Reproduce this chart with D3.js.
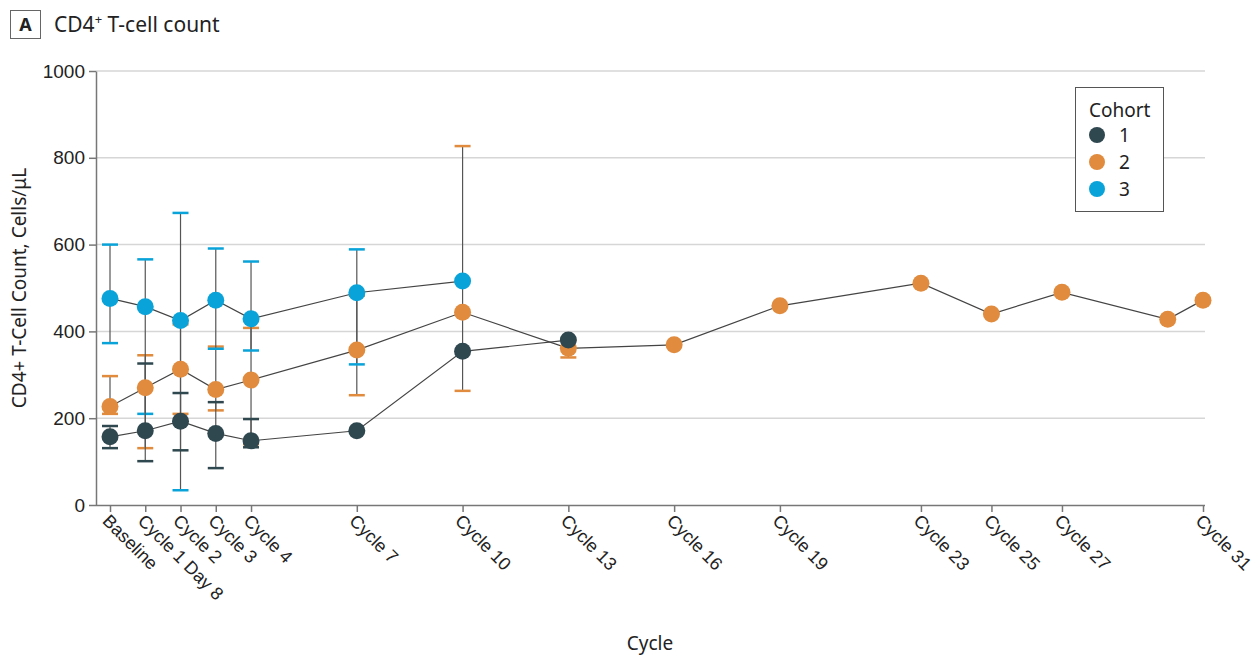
<!DOCTYPE html>
<html>
<head>
<meta charset="utf-8">
<script src="https://cdn.jsdelivr.net/npm/d3@7"></script>
<style>
  body { margin: 0; background: #fff; }
  svg { font-family: "Source Sans Pro", "Noto Sans", sans-serif; }
</style>
</head>
<body>
<div id="chart"></div>
<script>
// tick positions on the cycle axis, and their labels
const tickCycles = [0, 1, 2, 3, 4, 7, 10, 13, 16, 19, 23, 25, 27, 31];
const tickLabels = ['Baseline', 'Cycle 1 Day 8', 'Cycle 2', 'Cycle 3', 'Cycle 4', 'Cycle 7',
  'Cycle 10', 'Cycle 13', 'Cycle 16', 'Cycle 19', 'Cycle 23', 'Cycle 25', 'Cycle 27', 'Cycle 31'];
const yTicks = [0, 200, 400, 600, 800, 1000];

// cohort 1
const c1Cycles = [0, 1, 2, 3, 4, 7, 10, 13];
const c1Mean = [157, 171, 193, 165, 148, 171, 354, 380];
const c1Low = [131, 101, 126, 85, 133, null, null, null];
const c1High = [182, 326, 258, 237, 198, null, null, null];

// cohort 2
const c2Cycles = [0, 1, 2, 3, 4, 7, 10, 13, 16, 19, 23, 25, 27, 30, 31];
const c2Mean = [227, 270, 313, 266, 288, 357, 444, 361, 369, 459, 511, 440, 490, 428, 472];
const c2Low = [210, 131, 210, 218, 140, 253, 263, 340, null, null, null, null, null, null, null];
const c2High = [297, 345, 416, 365, 408, 482, 827, 380, null, null, null, null, null, null, null];

// cohort 3
const c3Cycles = [0, 1, 2, 3, 4, 7, 10];
const c3Mean = [476, 457, 425, 472, 429, 489, 516];
const c3Low = [373, 210, 34, 360, 356, 324, null];
const c3High = [600, 566, 673, 591, 561, 589, null];

const cohortNames = ['1', '2', '3'];
const cohortColors = ['#2f474f', '#e08b3d', '#0aa3d9'];

function rows(cycles, mean, low, high) {
  return cycles.map((c, i) => ({ cycle: c, value: mean[i], low: low[i], high: high[i] }));
}
const cohorts = [
  { name: cohortNames[0], color: cohortColors[0], data: rows(c1Cycles, c1Mean, c1Low, c1High) },
  { name: cohortNames[1], color: cohortColors[1], data: rows(c2Cycles, c2Mean, c2Low, c2High) },
  { name: cohortNames[2], color: cohortColors[2], data: rows(c3Cycles, c3Mean, c3Low, c3High) }
];

const W = 1255, H = 658;
const margin = { top: 71, right: 50, bottom: 153, left: 96 };
const width = W - margin.left - margin.right;
const height = H - margin.top - margin.bottom;

const svgRoot = d3.select('#chart').append('svg')
  .attr('width', W)
  .attr('height', H);

// panel letter + title
svgRoot.append('rect')
  .attr('x', 10.5).attr('y', 10.5).attr('width', 30).attr('height', 28)
  .attr('fill', '#fff').attr('stroke', '#666').attr('stroke-width', 1);
svgRoot.append('text')
  .attr('x', 25.5).attr('y', 31).attr('text-anchor', 'middle')
  .attr('font-size', '18px').attr('font-weight', 'bold').attr('fill', '#222')
  .text('A');
const title = svgRoot.append('text')
  .attr('x', 54).attr('y', 32)
  .attr('font-size', '21px').attr('fill', '#222');
title.append('tspan').text('CD4');
title.append('tspan').attr('dy', -8).attr('font-size', '13px').text('+');
title.append('tspan').attr('dy', 8).text(' T-cell count');

const svg = svgRoot.append('g')
  .attr('transform', `translate(${margin.left},${margin.top})`);

const xScale = d3.scaleLinear().domain([0, 31]).range([14, 1107]);
const yScale = d3.scaleLinear().domain([0, 1000]).range([height, 0]);

// grid
svg.selectAll('.grid')
  .data(yTicks.slice(1))
  .join('line')
  .attr('x1', 0).attr('x2', 1109)
  .attr('y1', d => yScale(d)).attr('y2', d => yScale(d))
  .attr('stroke', '#d6d6d6').attr('stroke-width', 1.5);

// y axis
const yAxis = svg.append('g')
  .call(d3.axisLeft(yScale).tickValues(yTicks).tickSize(7).tickSizeOuter(0)
    .tickFormat(d3.format('d')));
yAxis.select('.domain').attr('stroke', '#777').attr('stroke-width', 1.5);
yAxis.selectAll('.tick line').attr('stroke', '#777').attr('stroke-width', 1.5);
yAxis.selectAll('text').attr('font-size', '19px').attr('fill', '#222').attr('x', -11)
  .style('font-family', 'inherit');

// x axis
const xAxis = svg.append('g')
  .attr('transform', `translate(0,${height})`)
  .call(d3.axisBottom(xScale).tickValues(tickCycles).tickSize(7).tickSizeOuter(0)
    .tickFormat((d, i) => tickLabels[i]));
xAxis.select('.domain').attr('stroke', '#777').attr('stroke-width', 1.5)
  .attr('d', `M0,0.5H1109`);
xAxis.selectAll('.tick line').attr('stroke', '#777').attr('stroke-width', 1.5);
xAxis.selectAll('text')
  .attr('font-size', '18px').attr('fill', '#222')
  .attr('text-anchor', 'start')
  .attr('dy', '0')
  .attr('transform', 'translate(-9,17) rotate(45)')
  .attr('x', 0).attr('y', 0)
  .style('font-family', 'inherit');

// axis titles
svgRoot.append('text')
  .attr('transform', `translate(26,${margin.top + height / 2}) rotate(-90)`)
  .attr('text-anchor', 'middle')
  .attr('font-size', '19px').attr('fill', '#222')
  .text('CD4+ T-Cell Count, Cells/μL');
svgRoot.append('text')
  .attr('x', margin.left + 554).attr('y', 650)
  .attr('text-anchor', 'middle')
  .attr('font-size', '19px').attr('fill', '#222')
  .text('Cycle');

const line = d3.line()
  .x(d => xScale(d.cycle))
  .y(d => yScale(d.value));

// connecting lines
cohorts.forEach(c => {
  svg.append('path')
    .datum(c.data)
    .attr('fill', 'none')
    .attr('stroke', '#444')
    .attr('stroke-width', 1.2)
    .attr('d', line);
});

// error bars
const drawOrder = [cohorts[1], cohorts[2], cohorts[0]];
drawOrder.forEach(c => {
  const eb = c.data.filter(d => d.low != null);
  const g = svg.append('g');
  g.selectAll('.stem')
    .data(eb)
    .join('line')
    .attr('x1', d => xScale(d.cycle)).attr('x2', d => xScale(d.cycle))
    .attr('y1', d => yScale(d.low)).attr('y2', d => yScale(d.high))
    .attr('stroke', '#555').attr('stroke-width', 1.2);
  ['low', 'high'].forEach(k => {
    g.selectAll('.cap-' + k)
      .data(eb)
      .join('line')
      .attr('x1', d => xScale(d.cycle) - 8).attr('x2', d => xScale(d.cycle) + 8)
      .attr('y1', d => yScale(d[k])).attr('y2', d => yScale(d[k]))
      .attr('stroke', c.color).attr('stroke-width', 2.5);
  });
});

// points
drawOrder.forEach(c => {
  svg.append('g').selectAll('circle')
    .data(c.data)
    .join('circle')
    .attr('cx', d => xScale(d.cycle))
    .attr('cy', d => yScale(d.value))
    .attr('r', 8.5)
    .attr('fill', c.color);
});

// legend
const legend = svgRoot.append('g').attr('transform', 'translate(1075,87)');
legend.append('rect')
  .attr('x', 0.5).attr('y', 0.5).attr('width', 88).attr('height', 124)
  .attr('fill', '#fff').attr('stroke', '#555').attr('stroke-width', 1);
legend.append('text')
  .attr('x', 14).attr('y', 30)
  .attr('font-size', '19px').attr('fill', '#222')
  .text('Cohort');
cohorts.forEach((c, i) => {
  legend.append('circle')
    .attr('cx', 22).attr('cy', 48 + i * 27).attr('r', 8)
    .attr('fill', c.color);
  legend.append('text')
    .attr('x', 44).attr('y', 55 + i * 27)
    .attr('font-size', '19px').attr('fill', '#222')
    .text(c.name);
});
</script>
</body>
</html>
